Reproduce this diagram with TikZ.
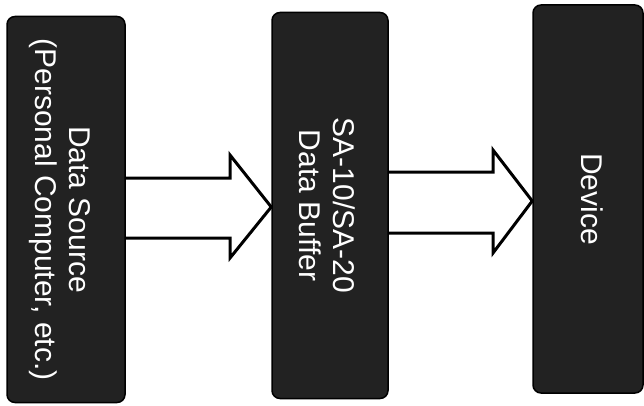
\documentclass[tikz,border=0pt]{standalone}
\usepackage{fontspec}
\setmainfont{Liberation Sans}
\definecolor{boxgray}{HTML}{222222}
\begin{document}
\begin{tikzpicture}[x=1pt,y=-1pt,
  box/.style={draw=black, line width=1.5pt, fill=boxgray, rounded corners=8pt,
    text=white, inner sep=0pt, minimum width=#1},
  box/.default=118pt,
  vtext/.style={},
  hollow/.style={draw=black, line width=3pt, line join=miter}]
\newcommand{\vlabel}[1]{\rotatebox[origin=c]{-90}{\fontsize{30}{34}\selectfont\begin{tabular}{@{}c@{}}#1\end{tabular}}}
\useasboundingbox (0,0) rectangle (644,406);
\node[box, minimum height=386pt] (src) at (66,209.5) {\hspace*{-14pt}\vlabel{Data Source\\(Personal Computer, etc.)}};
\node[box=116pt, minimum height=386pt] (buf) at (330,205.5) {\hspace*{-14pt}\vlabel{SA-10/SA-20\\Data Buffer}};
\node[box=110pt, minimum height=388pt] (dev) at (588,199) {\vlabel{Device}};
\draw[hollow] (src.east |- 0,178) -- (230,178) -- (230,155) -- (buf.west |- 0,207)
  -- (230,258) -- (230,238) -- (src.east |- 0,238);
\draw[hollow] (buf.east |- 0,172) -- (493,172) -- (493,150) -- (dev.west |- 0,201)
  -- (493,253) -- (493,233) -- (buf.east |- 0,233);
\end{tikzpicture}
\end{document}
